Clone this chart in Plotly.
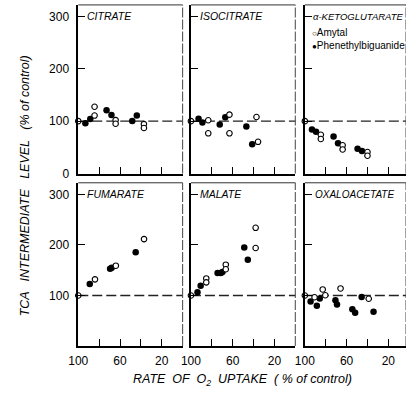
import plotly.graph_objects as go

W, H = 406, 405

# ---------------- data (x = rate of O2 uptake %, y = level % of control) ----------------
panel_names = ["CITRATE", "ISOCITRATE", "\u03b1-KETOGLUTARATE", "FUMARATE", "MALATE", "OXALOACETATE"]

cit_amytal_x = [100, 84.4, 84.4, 64.2, 64.2, 37.1, 37.1]
cit_amytal_y = [100, 127.5, 110.7, 102, 95, 94.4, 87]
cit_phen_x = [93.2, 88.5, 72.9, 68.2, 48.3, 43.9]
cit_phen_y = [96, 104, 121, 112, 100.5, 110.7]

iso_amytal_x = [100, 83.4, 83.4, 63.1, 63.1, 37.2, 35.7]
iso_amytal_y = [100, 101.8, 76.8, 112.4, 76.8, 108, 60.6]
iso_phen_x = [92.7, 89.0, 72.4, 67.1, 46.9, 41.3]
iso_phen_y = [104.6, 97.5, 93.6, 107.5, 90, 56]

akg_amytal_x = [100, 84.7, 84.7, 63.8, 63.8, 40, 40]
akg_amytal_y = [100, 74, 66, 54, 46, 41, 34]
akg_phen_x = [93.2, 89.3, 72.5, 68.2, 49.5, 45.3]
akg_phen_y = [84, 80, 70.5, 58, 47.5, 43]

fum_amytal_x = [100, 84, 64, 37]
fum_amytal_y = [100, 132, 159, 211.7]
fum_phen_x = [89, 69.5, 68, 45]
fum_phen_y = [123, 153, 155, 185.6]

mal_amytal_x = [100, 85.3, 85.3, 66.6, 66.6, 38, 38]
mal_amytal_y = [100, 133.8, 126, 161, 152, 234, 194]
mal_phen_x = [93.7, 90.7, 74.5, 71.3, 69.8, 48.9, 45.5]
mal_phen_y = [106.6, 119.5, 144.7, 144.7, 146.7, 195, 170.8]

oxa_amytal_x = [100, 90.7, 82.9, 80.4, 65.8, 38.8]
oxa_amytal_y = [100, 96.5, 112, 100.5, 114, 93.6]
oxa_phen_x = [94.5, 88.5, 85.7, 70.7, 69.2, 54.5, 51.8, 45.6, 34.2]
oxa_phen_y = [88.2, 79.5, 94.3, 90.6, 82, 72.7, 65.9, 97, 68]

control_level = 100
x_label_ticks = [100, 60, 20]
x_minor_ticks = [80, 40]
series_names = ["Amytal", "Phenethylbiguanide"]

panels = [
    (cit_amytal_x, cit_amytal_y, cit_phen_x, cit_phen_y),
    (iso_amytal_x, iso_amytal_y, iso_phen_x, iso_phen_y),
    (akg_amytal_x, akg_amytal_y, akg_phen_x, akg_phen_y),
    (fum_amytal_x, fum_amytal_y, fum_phen_x, fum_phen_y),
    (mal_amytal_x, mal_amytal_y, mal_phen_x, mal_phen_y),
    (oxa_amytal_x, oxa_amytal_y, oxa_phen_x, oxa_phen_y),
]

# ---------------- layout geometry (pixels) ----------------
def PX(v):
    return v / W

def PY(v):
    return 1 - v / H

col_px = [(70, 177), (185.5, 292.5), (302.3, 406)]
x_scale = 1.07  # px per unit
row_px = [(5, 176.6, 0.533), (186, 352.1, 0.514)]

FONT = "Liberation Sans, Arial, sans-serif"

fig = go.Figure()
layout = dict(
    width=W, height=H,
    margin=dict(l=0, r=0, t=0, b=0),
    paper_bgcolor="white", plot_bgcolor="white",
    showlegend=False,
    font=dict(family=FONT, color="black"),
)
shapes = []
annotations = []

title_offset_px = [7, 7, 6, 7, 7, 8]
title_size = [10.5, 10.5, 9.5, 10.5, 10.5, 10]

for i, (ax_, ay_, px_, py_) in enumerate(panels):
    r, c = divmod(i, 3)
    n = i + 1
    xa = "xaxis" if n == 1 else f"xaxis{n}"
    ya = "yaxis" if n == 1 else f"yaxis{n}"
    xr = "x" if n == 1 else f"x{n}"
    yr = "y" if n == 1 else f"y{n}"
    x0p, x1p = col_px[c]
    y0p, y1p, ys = row_px[r]
    xmin = 100 - (x1p - x0p) / x_scale
    ymax = (y1p - y0p) / ys

    if r == 0 and c == 0:
        ytv = [0, 100, 200, 300]
    else:
        ytv = [100, 200, 300]

    layout[xa] = dict(
        domain=[PX(x0p), PX(x1p)], range=[100, xmin], anchor=yr,
        showgrid=False, zeroline=False, showline=True, linecolor="black", linewidth=1.5,
        ticks="inside", ticklen=7, tickwidth=1.2, tickcolor="black",
        tickvals=x_label_ticks,
        minor=dict(tickvals=x_minor_ticks, ticks="inside", ticklen=7, tickwidth=1.2,
                   tickcolor="black", showgrid=False),
        showticklabels=(r == 1), ticklabelstandoff=3,
        tickfont=dict(size=12, family=FONT, color="black"),
    )
    layout[ya] = dict(
        domain=[PY(y1p), PY(y0p)], range=[0, ymax], anchor=xr,
        showgrid=False, zeroline=False, showline=True, linecolor="black", linewidth=1.5,
        ticks="inside", ticklen=7, tickwidth=1.2, tickcolor="black",
        tickvals=ytv,
        showticklabels=(c == 0), ticklabelstandoff=5,
        tickfont=dict(size=12, family=FONT, color="black"),
    )

    # thin top / right frame
    shapes.append(dict(type="line", xref=f"{xr} domain", yref=f"{yr} domain",
                       x0=0, x1=1, y0=1, y1=1, line=dict(color="#333", width=1)))
    shapes.append(dict(type="line", xref=f"{xr} domain", yref=f"{yr} domain",
                       x0=1, x1=1, y0=0, y1=1, line=dict(color="#444", width=1, dash="10px,2px")))
    # dashed control line
    shapes.append(dict(type="line", xref=f"{xr} domain", yref=yr,
                       x0=0, x1=1, y0=control_level, y1=control_level,
                       line=dict(color="#222", width=1.3, dash="10px,4px"), layer="below"))

    fig.add_trace(go.Scatter(
        x=px_, y=py_, mode="markers", xaxis=xr, yaxis=yr, name=series_names[1],
        marker=dict(symbol="circle", size=6.5, color="black"), cliponaxis=False))
    fig.add_trace(go.Scatter(
        x=ax_, y=ay_, mode="markers", xaxis=xr, yaxis=yr, name=series_names[0],
        marker=dict(symbol="circle", size=5.5, color="white", line=dict(color="black", width=1.1)),
        cliponaxis=False))

    annotations.append(dict(
        text=f"<i>{panel_names[i]}</i>", xref=xr, yref=yr,
        x=100 - title_offset_px[i] / x_scale, y=300,
        xanchor="left", yanchor="middle", showarrow=False,
        font=dict(size=title_size[i], family=FONT, color="black")))

# legend (in alpha-ketoglutarate panel)
annotations.append(dict(
    text="<span style='font-size:8px'>\u25cb</span>" + series_names[0],
    xref="paper", yref="paper", x=PX(308), y=PY(33), xanchor="left", yanchor="middle",
    showarrow=False, font=dict(size=10, family=FONT, color="black")))
annotations.append(dict(
    text="<span style='font-size:8px'>\u25cf</span>" + series_names[1],
    xref="paper", yref="paper", x=PX(308), y=PY(46.5), xanchor="left", yanchor="middle",
    showarrow=False, font=dict(size=10, family=FONT, color="black")))

# axis titles
annotations.append(dict(
    text="<i>TCA   INTERMEDIATE   LEVEL   (% of control)</i>",
    xref="paper", yref="paper", x=PX(15), y=PY(189), textangle=-90,
    xanchor="center", yanchor="middle", showarrow=False,
    font=dict(size=12.5, family=FONT, color="black")))
annotations.append(dict(
    text="<i>RATE  OF  O<sub>2</sub>  UPTAKE  ( % of control)</i>",
    xref="paper", yref="paper", x=PX(238), y=PY(387),
    xanchor="center", yanchor="middle", showarrow=False,
    font=dict(size=12.5, family=FONT, color="black")))

layout["shapes"] = shapes
layout["annotations"] = annotations
fig.update_layout(**layout)
fig.write_html("out.html")
